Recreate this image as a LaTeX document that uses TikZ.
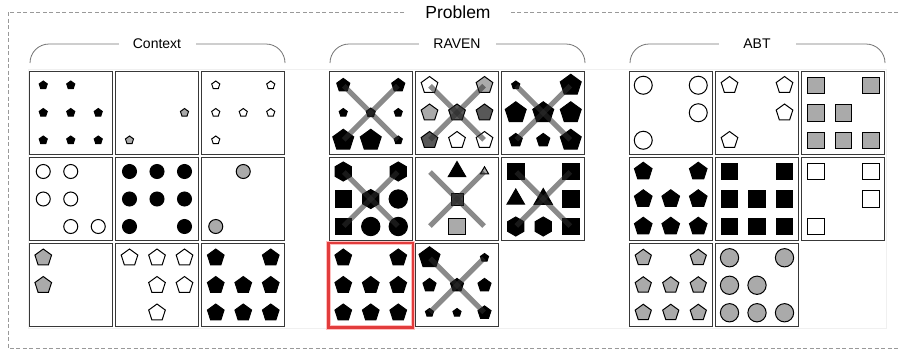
\documentclass[tikz,border=0pt]{standalone}
\usepackage{fontspec}
\setmainfont{Liberation Sans}
\usepackage{xcolor}
\usepackage{tikz}
\usetikzlibrary{shapes.geometric, calc}

\definecolor{lgray}{RGB}{170,170,170}
\definecolor{dgray}{RGB}{88,88,88}
\definecolor{hlred}{RGB}{226,60,60}

% objects on the 3x3 grid of one panel: cell, style, col/row list
\newcommand{\putobj}[3]{%
  \foreach \c/\r in {#3}
    \node[#2] (#1-\c\r) at ($(#1)+({(\c-1)*27.5},{(\r-1)*27.5})$) {};
}
\newcommand{\xcross}[1]{%
  \draw[xline] ($(#1)+(-27,-27)$) coordinate (#1-a) -- ($(#1)+(27,27)$) coordinate (#1-b);
  \draw[xline] ($(#1)+(27,-27)$) coordinate (#1-c) -- ($(#1)+(-27,27)$) coordinate (#1-d);
}

\begin{document}
\begin{tikzpicture}[
  x=1pt, y=-1pt,
  cell/.style={draw=black!78, line width=1.2pt, minimum size=83pt, inner sep=0},
  shp/.style={draw=black, line width=1pt, inner sep=0, outer sep=0},
  pent/.style 2 args={shp, regular polygon, regular polygon sides=5, fill=#1, minimum size=#2},
  hexa/.style 2 args={shp, regular polygon, regular polygon sides=6, shape border rotate=30, fill=#1, minimum size=#2},
  tri/.style 2 args={shp, regular polygon, regular polygon sides=3, fill=#1, minimum size=#2},
  sq/.style 2 args={shp, rectangle, fill=#1, minimum size=#2},
  disc/.style 2 args={shp, circle, fill=#1, minimum size=#2},
  xline/.style={line width=5pt, black!82, opacity=0.56},
  grp/.style={draw=black!55, line width=0.8pt, rounded corners=19pt},
  grplabel/.style={fill=white, minimum width=77pt, inner sep=0, font=\fontsize{14}{16}\selectfont},
]
\useasboundingbox (0,0) rectangle (899,349);

% outer frame
\draw[black!40, line width=0.8pt, dash pattern=on 4pt off 2.5pt] (8,12) rectangle (910,348);
\node[fill=white, minimum width=102pt, inner sep=0, font=\fontsize{17.5}{20}\selectfont]
  (problem) at (458,12) {Problem};
\draw[black!6] (28,69) rectangle (886,328);

% panels
\foreach \i/\j in {1/1,1/2,1/3,2/1,2/2,2/3,3/1,3/2,3/3}
  \node[cell] (ctx\i\j) at ({70.75+(\j-1)*86.25},{112.75+(\i-1)*86.25}) {};
\foreach \g/\gx in {rav/370.75, abt/670.75}
  \foreach \i/\j in {1/1,1/2,1/3,2/1,2/2,2/3,3/1,3/2}
    \node[cell] (\g\i\j) at ({\gx+(\j-1)*86.25},{112.75+(\i-1)*86.25}) {};

% Context
\putobj{ctx11}{pent={black}{8.5}}{0/0,1/0,0/1,1/1,2/1,0/2,1/2,2/2}
\putobj{ctx12}{pent={lgray}{8.5}}{2/1,0/2}
\putobj{ctx13}{pent={white}{8.5}}{0/0,2/0,0/1,1/1,2/1,0/2}
\putobj{ctx21}{disc={white}{14}}{0/0,1/0,0/1,1/1,1/2,2/2}
\putobj{ctx22}{disc={black}{14}}{0/0,1/0,2/0,0/1,1/1,2/1,0/2,2/2}
\putobj{ctx23}{disc={lgray}{14}}{1/0,0/2}
\putobj{ctx31}{pent={lgray}{17.5}}{0/0,0/1}
\putobj{ctx32}{pent={white}{17.5}}{0/0,1/0,2/0,1/1,2/1,1/2}
\putobj{ctx33}{pent={black}{17.5}}{0/0,2/0,0/1,1/1,2/1,0/2,1/2,2/2}

% RAVEN
\putobj{rav11}{pent={black}{13.7}}{0/0,2/0}
\putobj{rav11}{pent={black}{8.5}}{0/1,2/1,2/2}
\putobj{rav11}{pent={black}{9.5}}{1/1}
\putobj{rav11}{pent={black}{22}}{0/2,1/2}
\putobj{rav12}{pent={white}{17.5}}{0/0,1/2,2/2}
\putobj{rav12}{pent={lgray}{17.5}}{2/0,0/1}
\putobj{rav12}{pent={dgray}{17.5}}{1/1,2/1,0/2}
\putobj{rav13}{pent={black}{8.5}}{0/0}
\putobj{rav13}{pent={black}{22}}{2/0,0/1,1/1,2/1,2/2}
\putobj{rav13}{pent={black}{13.7}}{0/2,1/2}
\putobj{rav21}{hexa={black}{19}}{0/0,2/0,1/1}
\putobj{rav21}{sq={black}{16.5}}{0/1,0/2}
\putobj{rav21}{disc={black}{18.3}}{2/1,1/2,2/2}
\putobj{rav22}{tri={black}{20}}{1/0}
\putobj{rav22}{tri={lgray}{9.5}}{2/0}
\putobj{rav22}{sq={dgray!80!black}{12}}{1/1}
\putobj{rav22}{sq={lgray}{16.5}}{1/2}
\putobj{rav23}{sq={black}{16.5}}{0/0,2/0,2/1,2/2}
\putobj{rav23}{tri={black}{20}}{0/1}
\putobj{rav23}{tri={black}{21}}{1/1}
\putobj{rav23}{hexa={black}{19}}{0/2,1/2}
\putobj{rav31}{pent={black}{17.5}}{0/0,2/0,0/1,1/1,2/1,0/2,1/2,2/2}
\putobj{rav32}{pent={black}{22}}{0/0}
\putobj{rav32}{pent={black}{8.5}}{2/0,0/2,1/2}
\putobj{rav32}{pent={black}{13.7}}{0/1,1/1,2/1,2/2}

\foreach \k in {rav11,rav12,rav13,rav21,rav22,rav23,rav32}{\xcross{\k}}

% answer
\draw[red!25, line width=4.5pt] (rav31.south west) rectangle (rav31.north east);
\draw[hlred, line width=2.4pt] (rav31.south west) rectangle (rav31.north east);

% ABT
\putobj{abt11}{disc={white}{18}}{0/0,2/0,2/1,0/2}
\putobj{abt12}{pent={white}{17.5}}{0/0,2/0,2/1,0/2}
\putobj{abt13}{sq={lgray}{16.5}}{0/0,2/0,0/1,1/1,0/2,1/2,2/2}
\putobj{abt21}{pent={black}{18.5}}{0/0,2/0,0/1,1/1,2/1,0/2,1/2,2/2}
\putobj{abt22}{sq={black}{16.5}}{0/0,2/0,0/1,1/1,2/1,0/2,1/2,2/2}
\putobj{abt23}{sq={white}{16.5}}{0/0,2/0,2/1,0/2}
\putobj{abt31}{pent={lgray}{17}}{0/0,2/0,0/1,1/1,2/1,0/2,1/2,2/2}
\putobj{abt32}{disc={lgray}{18.3}}{0/0,2/0,0/1,1/1,0/2,1/2,2/2}

% group brackets
\draw[grp] (30,63) |- (157,44) -| (285,63);
\draw[grp] (330,63) |- (457,44) -| (585,63);
\draw[grp] (630,63) |- (757,44) -| (885,63);
\node[grplabel] (lblctx) at (157,44) {Context};
\node[grplabel] (lblrav) at (457,44) {RAVEN};
\node[grplabel] (lblabt) at (757,44) {ABT};

\end{tikzpicture}
\end{document}
